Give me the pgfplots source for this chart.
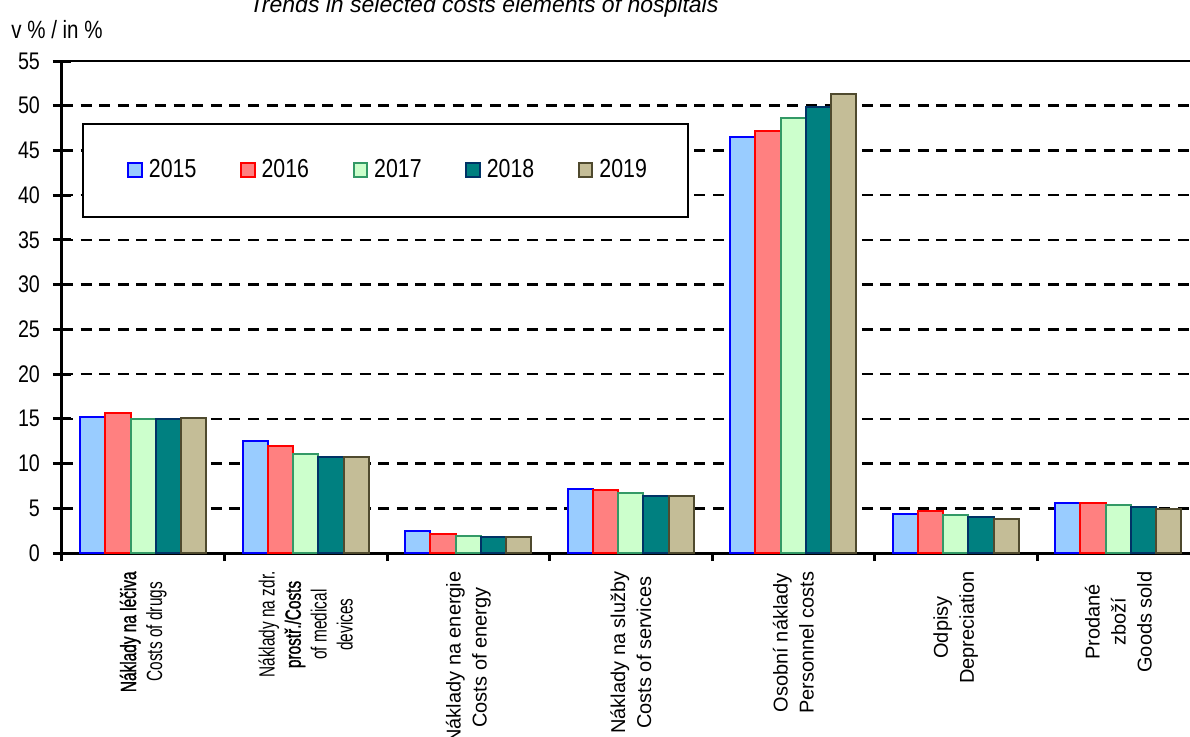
\documentclass[border=0pt]{standalone}
\usepackage{fontspec}
\setmainfont{Liberation Sans}[FakeStretch=0.82]
\newfontfamily\titlefont{Liberation Sans}
\newfontfamily\narrowfont{Liberation Sans}[FakeStretch=0.7]
\newfontfamily\narrowbold{Liberation Sans}[FakeStretch=0.7, FakeBold=1.2]
\usepackage{pgfplots}
\pgfplotsset{compat=1.18}
\definecolor{fA}{HTML}{99CCFF}\definecolor{dA}{HTML}{0000FF}
\definecolor{fB}{HTML}{FF8080}\definecolor{dB}{HTML}{FF0000}
\definecolor{fC}{HTML}{CCFFCC}\definecolor{dC}{HTML}{339966}
\definecolor{fD}{HTML}{008080}\definecolor{dD}{HTML}{003366}
\definecolor{fE}{HTML}{C4BD97}\definecolor{dE}{HTML}{4F4A2E}
\pgfplotsset{sqlegend/.style={legend image code/.code={\draw[##1,line width=1pt] (0pt,-3.4pt) rectangle (6.8pt,3.4pt);}}}
\newcommand\reg{\titlefont\fontsize{10}{13.5}\selectfont}
\newcommand\nar{\narrowfont\fontsize{11}{13}\selectfont}
\newcommand\narb{\narrowbold\fontsize{11}{13}\selectfont}
\begin{document}
\begin{tikzpicture}
\begin{axis}[
  at={(31pt,91.5pt)}, anchor=south west,
  scale only axis, width=568.75pt, height=246pt,
  xmin=-0.5, xmax=6.5, ymin=0, ymax=55,
  axis x line=bottom, axis y line=left,
  axis line style={-, line width=1.5pt},
  ytick={0,5,...,55},
  extra y ticks={55}, extra y tick labels={},
  extra y tick style={grid style={solid, line width=1pt, black}},
  ymajorgrids,
  grid style={line width=1.3pt, dash pattern=on 5.5pt off 3.8pt, black},
  ytick align=center, major tick length=9pt,
  ytick style={line width=1.5pt, black},
  xtick={0,...,6}, xtick align=outside,
  major x tick style={draw=none},
  minor xtick={-0.5,0.5,...,5.5},
  minor x tick style={line width=1.5pt, black},
  minor tick length=4pt,
  /pgf/number format/assume math mode=true,
  yticklabel style={font=\fontsize{12}{14}\selectfont, xshift=-3pt},
  xticklabels={{\narb Náklady na léčiva\\\nar Costs of drugs},
    {\nar Náklady na zdr.\\\narb prostř./Costs\\\nar of medical\\\nar devices},
    {\reg Náklady na energie\\\reg Costs of energy},
    {\reg Náklady na služby\\\reg Costs of services},
    {\reg Osobní náklady\\\reg Personnel costs},
    {\reg Odpisy\\\reg Depreciation},
    {\reg Prodané\\\reg zboží\\\reg Goods sold}},
  xticklabel style={rotate=90, anchor=east, align=center, inner sep=0pt,
    font=\fontsize{10}{13}\selectfont},
  ybar=0pt, bar width=12.6pt,
  ylabel={v \% / in \%},
  every axis y label/.style={at={(rel axis cs:-0.0044,1.063)}, anchor=center,
    font=\fontsize{12.5}{14}\selectfont},
  title={Trends in selected costs elements of hospitals},
  every axis title/.style={at={(rel axis cs:0.371,1.0996)}, anchor=base,
    font=\titlefont\itshape\fontsize{11.5}{14}\selectfont},
  legend columns=5,
  legend style={draw=none, fill=none, at={(0.0571,0.7785)}, anchor=west,
    inner sep=0pt, nodes={inner sep=0pt, font=\fontsize{13}{15}\selectfont},
    /tikz/every odd column/.append style={column sep=3pt},
    /tikz/every even column/.append style={column sep=21.8pt}},
]
\draw[line width=1pt, fill=white] (rel axis cs:0.01846,0.6829) rectangle (rel axis cs:0.5503,0.872);
\addplot[ybar, fill=fA, draw=dA, line width=1pt, sqlegend] coordinates {(0,15.17) (1,12.48) (2,2.46) (3,7.15) (4,46.47) (5,4.36) (6,5.55)};
\addplot[ybar, fill=fB, draw=dB, line width=1pt, sqlegend] coordinates {(0,15.6) (1,11.92) (2,2.16) (3,7.08) (4,47.21) (5,4.70) (6,5.55)};
\addplot[ybar, fill=fC, draw=dC, line width=1pt, sqlegend] coordinates {(0,14.98) (1,11.1) (2,1.94) (3,6.67) (4,48.59) (5,4.25) (6,5.37)};
\addplot[ybar, fill=fD, draw=dD, line width=1pt, sqlegend] coordinates {(0,14.95) (1,10.7) (2,1.75) (3,6.34) (4,49.82) (5,4.06) (6,5.18)};
\addplot[ybar, fill=fE, draw=dE, line width=1pt, sqlegend] coordinates {(0,15.13) (1,10.7) (2,1.82) (3,6.41) (4,51.31) (5,3.80) (6,4.95)};
\legend{2015,2016,2017,2018,2019}
\end{axis}
\pgfresetboundingbox
\useasboundingbox (0,0) rectangle (595pt,368pt);
\end{tikzpicture}
\end{document}
